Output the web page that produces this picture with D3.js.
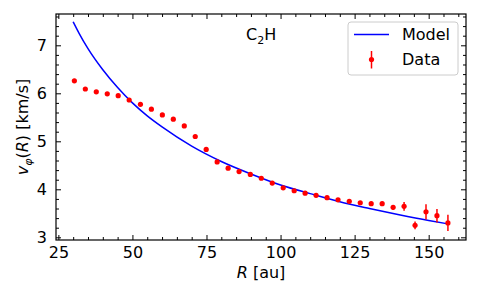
<!DOCTYPE html>
<html>
<head>
<meta charset="utf-8">
<script src="https://cdn.jsdelivr.net/npm/d3@7"></script>
<style>
  body { margin: 0; background: #fff; }
  text { font-family: "DejaVu Sans", sans-serif; }
</style>
</head>
<body>
<div id="chart"></div>
<script>
// data
var radius = [30.4, 34.1, 37.8, 41.5, 45.2, 48.9, 52.7, 56.4, 60.1, 63.8,
  67.5, 71.2, 74.9, 78.6, 82.3, 86.0, 89.8, 93.5, 97.2, 100.9,
  104.6, 108.3, 112.0, 115.7, 119.4, 123.2, 126.9, 130.6, 134.3, 138.0,
  141.7, 145.4, 149.1, 152.8, 156.5];
var vphi = [6.26, 6.09, 6.03, 5.99, 5.95, 5.86, 5.77, 5.67, 5.55, 5.46,
  5.32, 5.10, 4.83, 4.57, 4.44, 4.37, 4.31, 4.23, 4.13, 4.03,
  3.97, 3.92, 3.875, 3.825, 3.78, 3.75, 3.72, 3.70, 3.70, 3.625,
  3.645, 3.25, 3.53, 3.45, 3.30];
var vphiErr = [0.04, 0.03, 0.03, 0.03, 0.03, 0.03, 0.03, 0.03, 0.03, 0.03,
  0.03, 0.03, 0.03, 0.03, 0.03, 0.03, 0.03, 0.03, 0.03, 0.03,
  0.03, 0.03, 0.03, 0.03, 0.03, 0.03, 0.03, 0.04, 0.04, 0.05,
  0.09, 0.08, 0.16, 0.14, 0.17];

var modelR = [30, 32, 35, 40, 45, 50, 55, 60, 70, 80, 90, 100, 110, 120, 130, 140, 150, 156.5];
var modelV = [7.49, 7.25, 6.93, 6.49, 6.12, 5.80, 5.53, 5.30, 4.90, 4.58, 4.32, 4.09, 3.91, 3.74, 3.60, 3.47, 3.35, 3.28];

var xTicks = [25, 50, 75, 100, 125, 150];
var xMinor = [30, 35, 40, 45, 55, 60, 65, 70, 80, 85, 90, 95, 105, 110, 115, 120, 130, 135, 140, 145, 155, 160];
var yTicks = [3, 4, 5, 6, 7];
var yMinor = [3.2, 3.4, 3.6, 3.8, 4.2, 4.4, 4.6, 4.8, 5.2, 5.4, 5.6, 5.8, 6.2, 6.4, 6.6, 6.8, 7.2, 7.4, 7.6];

var svgWidth = 480;
var svgHeight = 300;
var margin = { top: 14, right: 14, bottom: 60, left: 56 };
var width = svgWidth - margin.left - margin.right;
var height = svgHeight - margin.top - margin.bottom;

var svg = d3.select("#chart")
  .append("svg")
  .attr("width", svgWidth)
  .attr("height", svgHeight);

var chartGroup = svg.append("g")
  .attr("transform", `translate(${margin.left}, ${margin.top})`);

var xScale = d3.scaleLinear().domain([24.2, 162.6]).range([0, width]);
var yScale = d3.scaleLinear().domain([2.944, 7.652]).range([height, 0]);

// model curve
var line = d3.line()
  .x((d, i) => xScale(modelR[i]))
  .y(d => yScale(d))
  .curve(d3.curveMonotoneX);

chartGroup.append("path")
  .datum(modelV)
  .attr("d", line)
  .attr("fill", "none")
  .attr("stroke", "#0000ff")
  .attr("stroke-width", 1.5);

// data with error bars
var pts = radius.map((r, i) => ({ r: r, v: vphi[i], e: vphiErr[i] }));

chartGroup.selectAll(".err")
  .data(pts)
  .enter().append("line")
  .attr("class", "err")
  .attr("x1", d => xScale(d.r))
  .attr("x2", d => xScale(d.r))
  .attr("y1", d => yScale(d.v - d.e))
  .attr("y2", d => yScale(d.v + d.e))
  .attr("stroke", "#ff0000")
  .attr("stroke-width", 1.5);

chartGroup.selectAll(".pt")
  .data(pts)
  .enter().append("circle")
  .attr("class", "pt")
  .attr("cx", d => xScale(d.r))
  .attr("cy", d => yScale(d.v))
  .attr("r", 2.6)
  .attr("fill", "#ff0000");

// axes, ticks pointing inward on all four sides
function styleAxis(g) {
  g.select(".domain").remove();
  g.selectAll("line").attr("stroke", "#000").attr("stroke-width", 1);
  g.selectAll("text").attr("font-size", 16).attr("fill", "#000")
    .style("font-family", "DejaVu Sans, sans-serif");
}

chartGroup.append("g")
  .attr("transform", `translate(0, ${height})`)
  .call(d3.axisBottom(xScale).tickValues(xTicks).tickSize(-5).tickPadding(7).tickFormat(d3.format("d")))
  .call(styleAxis);
chartGroup.append("g")
  .attr("transform", `translate(0, ${height})`)
  .call(d3.axisBottom(xScale).tickValues(xMinor).tickSize(-3).tickFormat(""))
  .call(styleAxis);
chartGroup.append("g")
  .call(d3.axisTop(xScale).tickValues(xTicks).tickSize(-5).tickFormat(""))
  .call(styleAxis);
chartGroup.append("g")
  .call(d3.axisTop(xScale).tickValues(xMinor).tickSize(-3).tickFormat(""))
  .call(styleAxis);

chartGroup.append("g")
  .call(d3.axisLeft(yScale).tickValues(yTicks).tickSize(-5).tickPadding(9).tickFormat(d3.format("d")))
  .call(styleAxis);
chartGroup.append("g")
  .call(d3.axisLeft(yScale).tickValues(yMinor).tickSize(-3).tickFormat(""))
  .call(styleAxis);
chartGroup.append("g")
  .attr("transform", `translate(${width}, 0)`)
  .call(d3.axisRight(yScale).tickValues(yTicks).tickSize(-5).tickFormat(""))
  .call(styleAxis);
chartGroup.append("g")
  .attr("transform", `translate(${width}, 0)`)
  .call(d3.axisRight(yScale).tickValues(yMinor).tickSize(-3).tickFormat(""))
  .call(styleAxis);

// frame
chartGroup.append("rect")
  .attr("width", width)
  .attr("height", height)
  .attr("fill", "none")
  .attr("stroke", "#000")
  .attr("stroke-width", 1.2);

// species label
var species = chartGroup.append("text")
  .attr("x", 190)
  .attr("y", 26)
  .attr("font-size", 16)
  .attr("fill", "#000");
species.append("tspan").text("C");
species.append("tspan").attr("font-size", 11).attr("dy", 4).text("2");
species.append("tspan").attr("dy", -4).text("H");

// legend
var legend = chartGroup.append("g")
  .attr("transform", `translate(${348 - margin.left}, ${22 - margin.top})`);
legend.append("rect")
  .attr("width", 110)
  .attr("height", 53)
  .attr("rx", 3)
  .attr("fill", "#fff")
  .attr("fill-opacity", 0.8)
  .attr("stroke", "#cccccc")
  .attr("stroke-width", 1);
legend.append("line")
  .attr("x1", 6).attr("x2", 41)
  .attr("y1", 12.5).attr("y2", 12.5)
  .attr("stroke", "#0000ff")
  .attr("stroke-width", 1.5);
legend.append("line")
  .attr("x1", 23.5).attr("x2", 23.5)
  .attr("y1", 29).attr("y2", 46.5)
  .attr("stroke", "#ff0000")
  .attr("stroke-width", 1.5);
legend.append("circle")
  .attr("cx", 23.5).attr("cy", 37.5).attr("r", 2.6)
  .attr("fill", "#ff0000");
legend.append("text")
  .attr("x", 54).attr("y", 12.5).attr("dy", "0.36em")
  .attr("font-size", 16)
  .text("Model");
legend.append("text")
  .attr("x", 54).attr("y", 37.5).attr("dy", "0.36em")
  .attr("font-size", 16)
  .text("Data");

// axis labels
var xLabel = svg.append("text")
  .attr("x", margin.left + width / 2)
  .attr("y", 278)
  .attr("text-anchor", "middle")
  .attr("font-size", 16);
xLabel.append("tspan").attr("font-style", "italic").text("R");
xLabel.append("tspan").text(" [au]");

var yLabel = svg.append("text")
  .attr("transform", `translate(28, ${margin.top + height / 2}) rotate(-90)`)
  .attr("text-anchor", "middle")
  .attr("font-size", 16);
yLabel.append("tspan").attr("font-style", "italic").text("v");
yLabel.append("tspan").attr("font-style", "italic").attr("font-size", 11).attr("dy", 4).text("φ");
yLabel.append("tspan").attr("dy", -4).text("(");
yLabel.append("tspan").attr("font-style", "italic").text("R");
yLabel.append("tspan").text(") [km/s]");
</script>
</body>
</html>
